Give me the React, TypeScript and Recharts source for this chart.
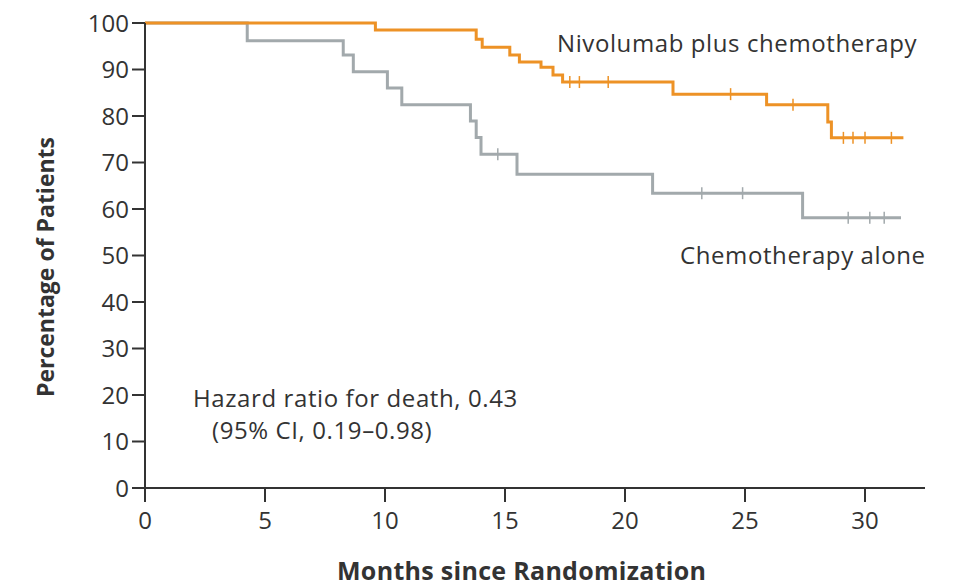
import { ComposedChart, Line, Scatter, XAxis, YAxis } from "recharts";

// Kaplan-Meier step points: month of each drop and survival (%) after it
const nivoMonths = [0, 9.6, 13.8, 14.05, 15.2, 15.6, 16.5, 17.0, 17.4, 22.0, 25.9, 28.45, 28.6, 31.6];
const nivoPct = [100, 98.5, 96.5, 94.8, 93.1, 91.6, 90.5, 88.8, 87.3, 84.7, 82.4, 78.7, 75.3, 75.3];

const chemoMonths = [0, 4.26, 8.26, 8.68, 10.1, 10.7, 13.56, 13.8, 14.0, 15.5, 21.15, 27.4, 31.5];
const chemoPct = [100, 96.2, 93.1, 89.5, 86.0, 82.4, 78.9, 75.4, 71.8, 67.5, 63.4, 58.1, 58.1];

// censored observations (tick marks)
const nivoCensorMonths = [17.7, 18.1, 19.3, 24.4, 27.0, 29.1, 29.5, 30.0, 31.1];
const nivoCensorPct = [87.3, 87.3, 87.3, 84.7, 82.4, 75.3, 75.3, 75.3, 75.3];
const chemoCensorMonths = [14.7, 23.2, 24.9, 29.3, 30.2, 30.8];
const chemoCensorPct = [71.8, 63.4, 63.4, 58.1, 58.1, 58.1];

const xTicks = [0, 5, 10, 15, 20, 25, 30];
const yTicks = [0, 10, 20, 30, 40, 50, 60, 70, 80, 90, 100];

const ORANGE = "#ED9226";
const GRAY = "#A2A9AC";
const INK = "#333333";
const FONT = "'Open Sans', sans-serif";

const toPoints = (months: number[], pct: number[]) =>
  months.map((m, i) => ({ month: m, pct: pct[i] }));

const nivo = toPoints(nivoMonths, nivoPct);
const chemo = toPoints(chemoMonths, chemoPct);
const nivoCensor = toPoints(nivoCensorMonths, nivoCensorPct);
const chemoCensor = toPoints(chemoCensorMonths, chemoCensorPct);

const censorTick = (color: string) => (props: any) => (
  <line
    x1={props.cx}
    x2={props.cx}
    y1={props.cy - 6}
    y2={props.cy + 6}
    stroke={color}
    strokeWidth={1.5}
  />
);

const textStyle: React.CSSProperties = {
  position: "absolute",
  fontFamily: FONT,
  color: INK,
  whiteSpace: "nowrap",
  lineHeight: 1,
  fontSize: 24,
  letterSpacing: 0.6,
};

const tickStyle = { fill: INK, fontSize: 24, fontFamily: FONT };

export default function App() {
  return (
    <div style={{ position: "absolute", left: 0, top: 0, width: 954, height: 587, background: "#fff" }}>
      <ComposedChart
        width={954}
        height={587}
        margin={{ top: 23, right: 29, bottom: 69, left: 85 }}
      >
        <XAxis
          type="number"
          dataKey="month"
          domain={[0, 32.5]}
          ticks={xTicks}
          height={30}
          tickSize={14}
          tickMargin={10}
          stroke={INK}
          strokeWidth={2}
          tick={tickStyle}
          allowDataOverflow
        />
        <YAxis
          type="number"
          dataKey="pct"
          domain={[0, 100]}
          ticks={yTicks}
          width={60}
          tickSize={13}
          tickMargin={3}
          stroke={INK}
          strokeWidth={2}
          tick={tickStyle}
        />
        <Line
          data={chemo}
          dataKey="pct"
          type="stepAfter"
          stroke={GRAY}
          strokeWidth={3}
          dot={false}
          isAnimationActive={false}
        />
        <Line
          data={nivo}
          dataKey="pct"
          type="stepAfter"
          stroke={ORANGE}
          strokeWidth={3}
          dot={false}
          isAnimationActive={false}
        />
        <Scatter data={chemoCensor} dataKey="pct" shape={censorTick(GRAY)} isAnimationActive={false} />
        <Scatter data={nivoCensor} dataKey="pct" shape={censorTick(ORANGE)} isAnimationActive={false} />
      </ComposedChart>

      <div style={{ ...textStyle, left: 557, top: 31 }}>Nivolumab plus chemotherapy</div>
      <div style={{ ...textStyle, left: 680, top: 243 }}>Chemotherapy alone</div>
      <div style={{ ...textStyle, left: 193, top: 386 }}>Hazard ratio for death, 0.43</div>
      <div style={{ ...textStyle, left: 212, top: 418 }}>(95% CI, 0.19–0.98)</div>
      <div style={{ ...textStyle, left: 337, top: 558, fontSize: 25, letterSpacing: 0.3, fontWeight: 700 }}>
        Months since Randomization
      </div>
      <div
        style={{
          ...textStyle,
          left: 45,
          top: 267,
          fontSize: 23,
          letterSpacing: 0,
          fontWeight: 700,
          transform: "translate(-50%, -50%) rotate(-90deg)",
        }}
      >
        Percentage of Patients
      </div>
    </div>
  );
}
